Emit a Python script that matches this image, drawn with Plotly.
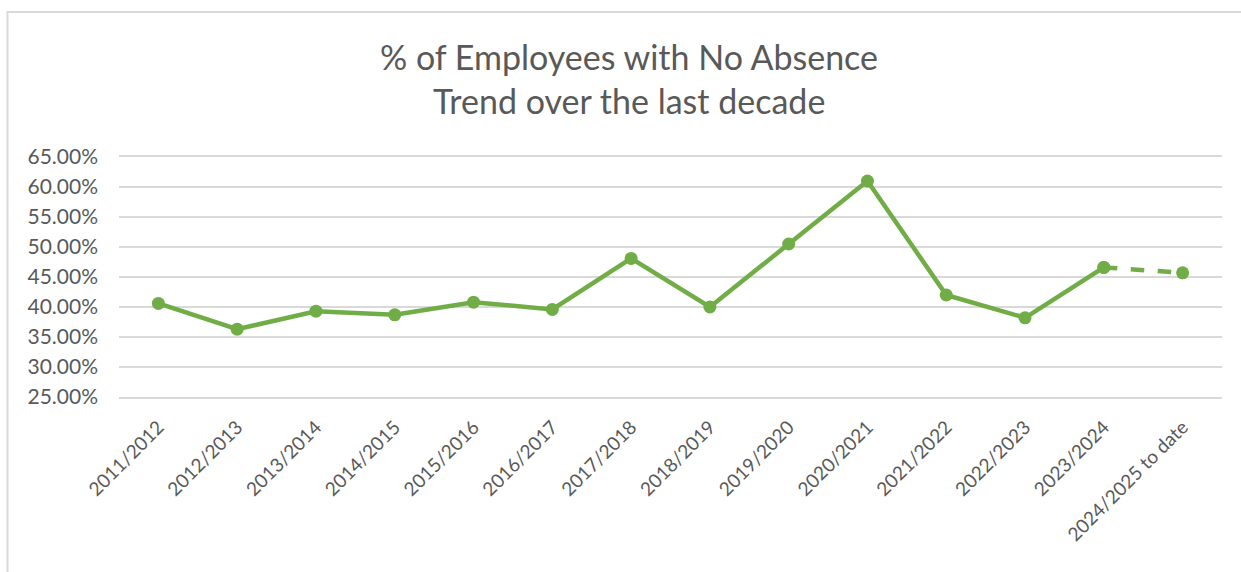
import plotly.graph_objects as go

# School years shown on the category axis
categories = [
    "2011/2012", "2012/2013", "2013/2014", "2014/2015", "2015/2016",
    "2016/2017", "2017/2018", "2018/2019", "2019/2020", "2020/2021",
    "2021/2022", "2022/2023", "2023/2024", "2024/2025 to date",
]
# Percentage of employees with no recorded absence
no_absence_pct = [40.6, 36.3, 39.3, 38.7, 40.8, 39.6, 48.1, 40.0, 50.5, 61.0, 42.0, 38.2, 46.6, 45.7]

title_lines = ["% of Employees with No Absence", "Trend over the last decade"]

GREEN = "#70AD47"
TEXT = "#595959"
GRID = "#D9D9D9"
FONT = "Lato"

W, H = 1241, 572
L, R, T, B = 119, 19, 157, 175
PW, PH = W - L - R, H - T - B


def px_x(px):
    return (px - L) / PW


def px_y(py):
    return (H - B - py) / PH


fig = go.Figure()

# Completed years: solid line
fig.add_trace(go.Scatter(
    x=categories[:-1], y=no_absence_pct[:-1],
    mode="lines+markers",
    line=dict(color=GREEN, width=4.5),
    marker=dict(color=GREEN, size=13),
    hoverinfo="skip", showlegend=False,
))
# Current year to date: dashed segment
fig.add_trace(go.Scatter(
    x=categories[-2:], y=no_absence_pct[-2:],
    mode="lines+markers",
    line=dict(color=GREEN, width=4.5, dash="dash"),
    marker=dict(color=GREEN, size=13),
    hoverinfo="skip", showlegend=False,
))

for txt, py in zip(title_lines, [57, 101]):
    fig.add_annotation(
        text=txt, xref="paper", yref="paper",
        x=px_x(629), y=px_y(py), xanchor="center", yanchor="middle",
        showarrow=False, font=dict(family=FONT, size=34, color=TEXT),
    )

# Chart frame (top and left edges visible)
fig.add_shape(
    type="rect", xref="paper", yref="paper",
    x0=px_x(7.5), x1=px_x(W + 20), y0=px_y(H + 20), y1=px_y(12),
    line=dict(color=GRID, width=2), fillcolor="rgba(0,0,0,0)", layer="below",
)

fig.update_layout(
    width=W, height=H,
    margin=dict(l=L, r=R, t=T, b=B),
    paper_bgcolor="white", plot_bgcolor="white",
    font=dict(family=FONT, color=TEXT),
)
fig.update_xaxes(
    type="category", range=[-0.5, len(categories) - 0.5],
    tickangle=-45, showgrid=False,
    showline=True, mirror=True, linecolor=GRID, linewidth=1.5,
    ticks="", ticklabelstandoff=10,
    tickfont=dict(family=FONT, size=19, color=TEXT),
)
fig.update_yaxes(
    range=[25, 65], dtick=5, tick0=25, tickformat=".2f", ticksuffix="%",
    showgrid=True, gridcolor=GRID, gridwidth=1.5, zeroline=False, showline=False,
    ticks="", ticklabelstandoff=20,
    tickfont=dict(family=FONT, size=21, color=TEXT),
)

fig.write_html("out.html")
